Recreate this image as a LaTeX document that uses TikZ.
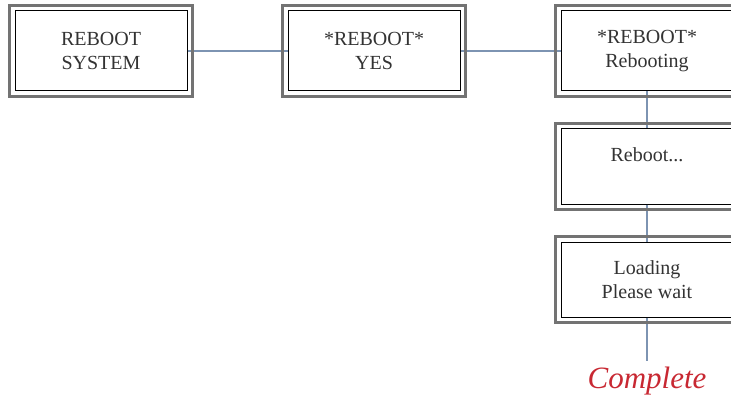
\documentclass[tikz,border=0pt]{standalone}
\usepackage{fontspec}
\setmainfont{Liberation Serif}
\usetikzlibrary{positioning}

\begin{document}
\begin{tikzpicture}[x=1pt,y=-1pt,
  screen/.style={draw=black, line width=1pt, fill=white, minimum width=172pt, minimum height=80pt,
    align=center, inner sep=0pt, text=black!80, font=\fontsize{20}{24}\selectfont},
  low/.style={minimum height=75pt},
  frame/.style={draw=black!55, line width=3.5pt},
  link/.style={draw={rgb,255:red,125;green,148;blue,178}, line width=1.3pt},
  node distance=100pt]
 \useasboundingbox (0,0) rectangle (731,409);
 \node[screen] (menu) at (101,51) {REBOOT\\SYSTEM};
 \node[screen, right=of menu] (confirm) {*REBOOT*\\YES};
 \node[screen, right=of confirm] (rebooting) {*REBOOT*\\Rebooting};
 \node[screen, low, below=37pt of rebooting] (reboot) {Reboot...\\~};
 \node[screen, low, below=37pt of reboot] (loading) {Loading\\Please wait};
 \coordinate[below=43pt of loading] (tail);
 \node[below=6pt of tail, inner sep=0pt, text={rgb,255:red,200;green,40;blue,50},
   font=\itshape\fontsize{31}{31}\selectfont] (done) {Complete};
 % connectors
 \draw[link] (menu) -- (confirm);
 \draw[link] (confirm) -- (rebooting);
 \draw[link] (rebooting) -- (reboot);
 \draw[link] (reboot) -- (loading);
 \draw[link] (loading) -- (tail);
 % outer frames
 \foreach \n in {menu,confirm,rebooting,reboot,loading}
  \draw[frame] ([shift={(-5pt,5pt)}]\n.north west) rectangle ([shift={(5pt,-5pt)}]\n.south east);
\end{tikzpicture}
\end{document}
